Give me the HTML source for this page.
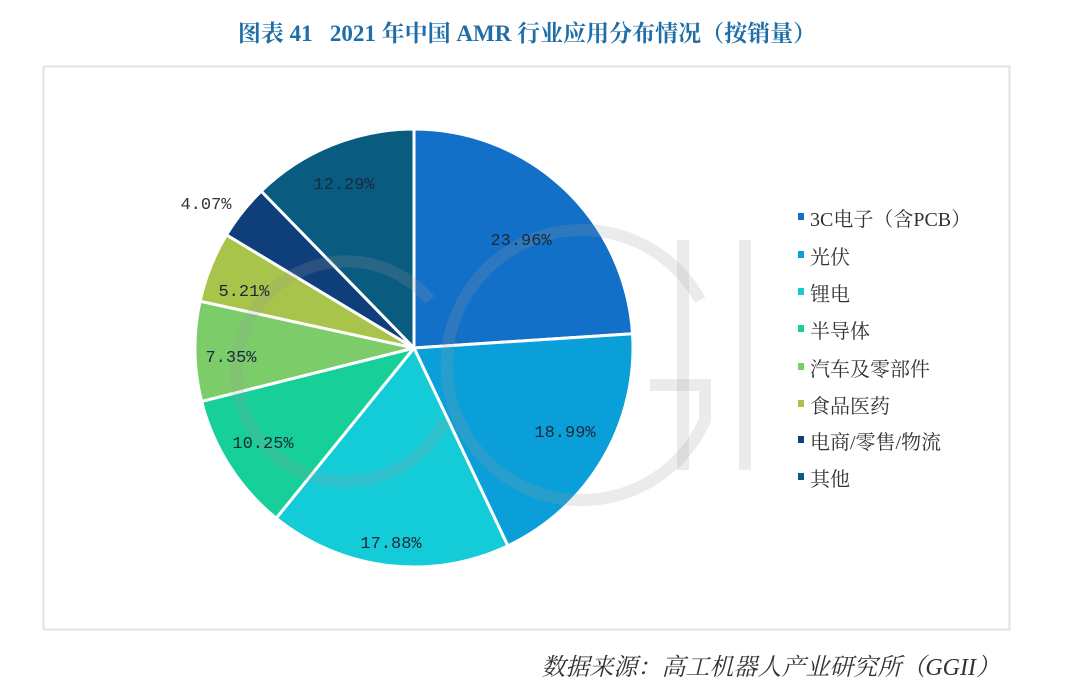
<!DOCTYPE html>
<html><head><meta charset="utf-8"><style>
html,body{margin:0;padding:0;background:#fff;}
svg{display:block;}
</style></head><body>
<svg id="s" width="1080" height="697" xmlns="http://www.w3.org/2000/svg">
<rect width="1080" height="697" fill="#fff"/>
<text x="527" y="41" text-anchor="middle" font-family="Liberation Serif,'Noto Serif CJK SC',serif" font-size="23" font-weight="bold" fill="#1f6ea8" style="white-space:pre">图表 41   2021 年中国 AMR 行业应用分布情况（按销量）</text>
<rect x="43.5" y="66.5" width="966" height="563" fill="#fff" stroke="#e2e2e2" stroke-width="2"/>
<g id="pie"></g>
<g fill="none" stroke="#9a9a9a" stroke-opacity="0.2" stroke-width="12">
<path d="M430 300 A110 110 0 1 0 445 420"/>
<path d="M700 300 A135 135 0 1 0 705 420 L705 385 L650 385"/>
<line x1="683" y1="240" x2="683" y2="470"/>
<line x1="745" y1="240" x2="745" y2="470"/>
</g>
<g font-family="Liberation Mono,monospace" font-size="17" fill="#1a2a3a" text-anchor="middle">
<text x="521" y="245">23.96%</text>
<text x="565" y="437">18.99%</text>
<text x="391" y="548">17.88%</text>
<text x="263" y="448">10.25%</text>
<text x="231" y="362">7.35%</text>
<text x="244" y="296">5.21%</text>
<text x="206" y="209" fill="#333">4.07%</text>
<text x="344" y="189">12.29%</text>
</g>
<g font-family="Liberation Serif,'Noto Serif CJK SC',serif" font-size="20" fill="#333">
<rect x="798" y="213" width="6" height="7" fill="#1270c8"/><text x="810" y="226">3C电子（含PCB）</text>
<rect x="798" y="251" width="6" height="7" fill="#0a9fd8"/><text x="810" y="264">光伏</text>
<rect x="798" y="288" width="6" height="7" fill="#14cbd8"/><text x="810" y="301">锂电</text>
<rect x="798" y="325" width="6" height="7" fill="#17cf98"/><text x="810" y="338">半导体</text>
<rect x="798" y="363" width="6" height="7" fill="#7ccc6a"/><text x="810" y="376">汽车及零部件</text>
<rect x="798" y="400" width="6" height="7" fill="#a8c44a"/><text x="810" y="413">食品医药</text>
<rect x="798" y="436" width="6" height="7" fill="#0f3f7a"/><text x="810" y="449">电商/零售/物流</text>
<rect x="798" y="473" width="6" height="7" fill="#0a5b80"/><text x="810" y="486">其他</text>
</g>
<text x="1000" y="675" text-anchor="end" font-family="Liberation Serif,'Noto Serif CJK SC',serif" font-size="24" font-style="italic" fill="#333">数据来源：高工机器人产业研究所（GGII）</text>
</svg>
<script>
var v=[23.96,18.99,17.88,10.25,7.35,5.21,4.07,12.29];
var c=["#1270c8","#0a9fd8","#14cbd8","#17cf98","#7ccc6a","#a8c44a","#0f3f7a","#0a5b80"];
var cx=414,cy=348,r=219,a=0,t=0,g=document.getElementById('pie'),h='';
v.forEach(function(x){t+=x;});
v.forEach(function(x,i){
 var a0=a/t*2*Math.PI,a1=(a+x)/t*2*Math.PI;a+=x;
 var x0=cx+r*Math.sin(a0),y0=cy-r*Math.cos(a0),x1=cx+r*Math.sin(a1),y1=cy-r*Math.cos(a1);
 h+='<path d="M'+cx+' '+cy+' L'+x0+' '+y0+' A'+r+' '+r+' 0 '+((a1-a0)>Math.PI?1:0)+' 1 '+x1+' '+y1+' Z" fill="'+c[i]+'" stroke="#fff" stroke-width="3" stroke-linejoin="round"/>';
});
g.innerHTML=h;
</script>
</body></html>
